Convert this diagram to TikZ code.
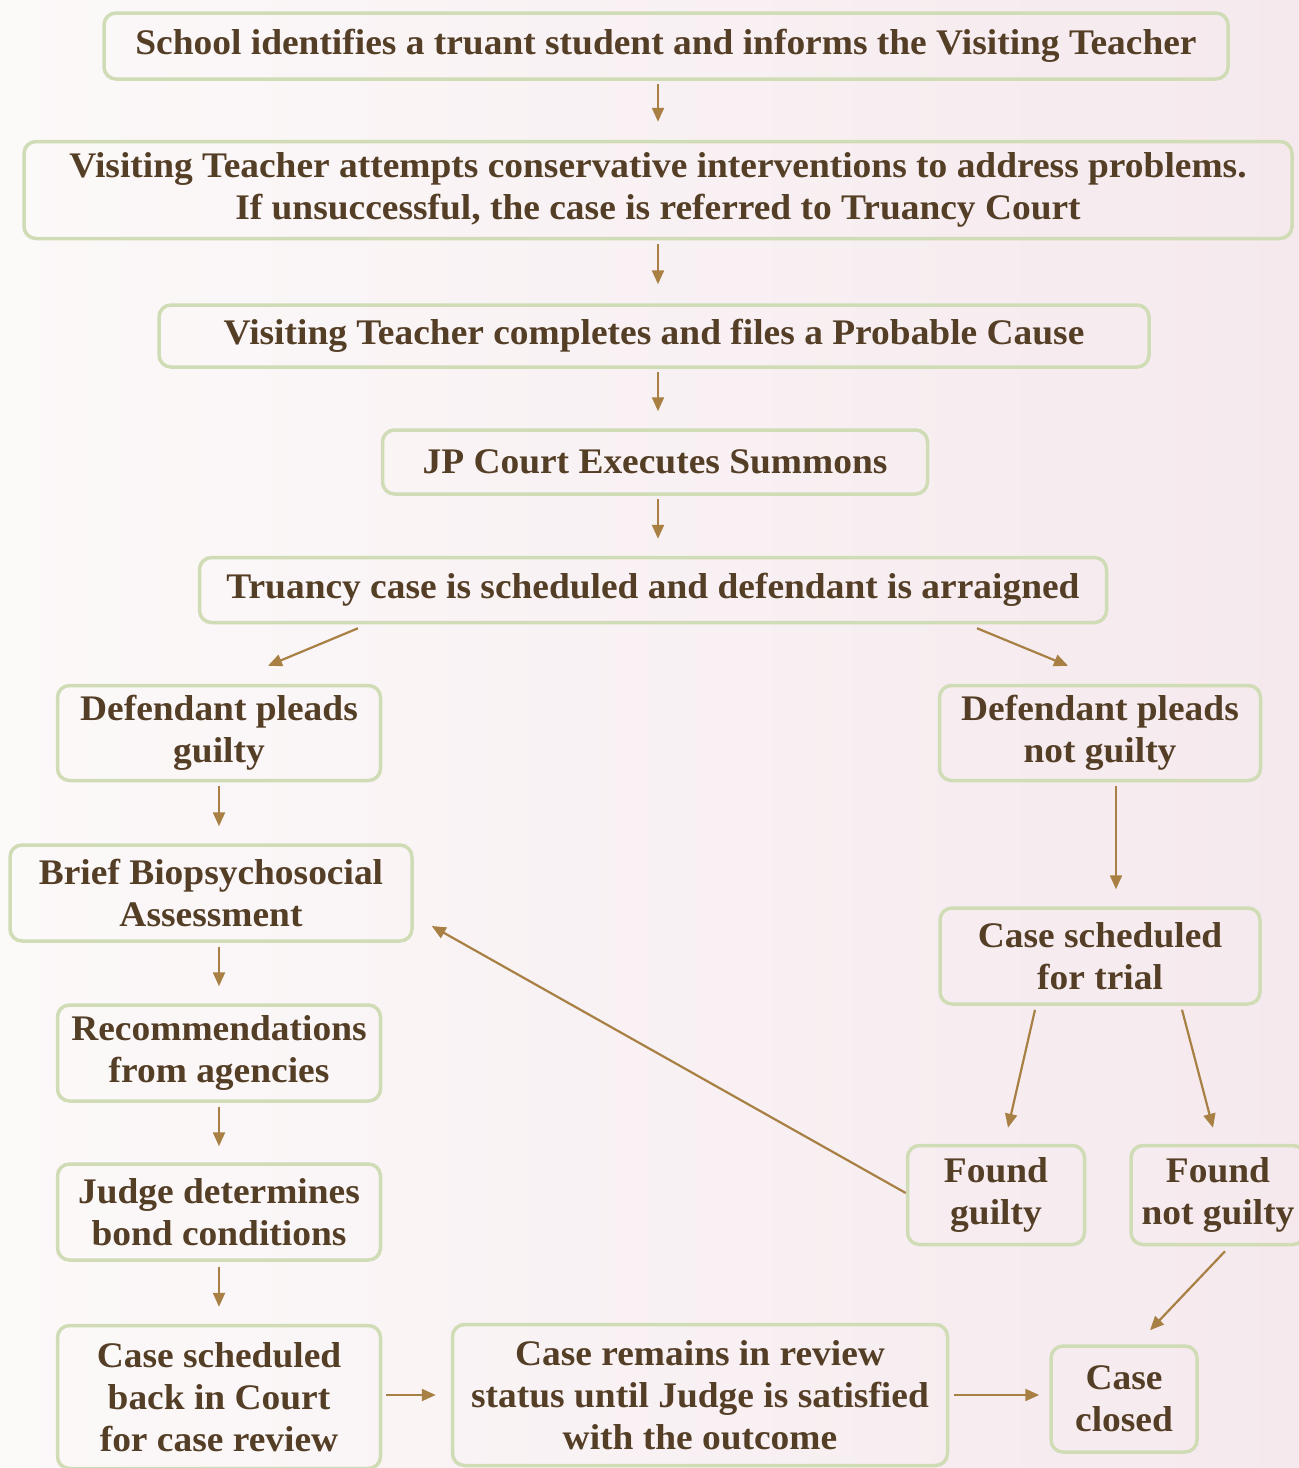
\documentclass[tikz,border=0pt]{standalone}
\usepackage{fontspec}
\setmainfont{Liberation Serif}[FakeStretch=1.04]
\usetikzlibrary{calc,arrows.meta}
\definecolor{bgl}{RGB}{252,249,249}
\definecolor{bgr}{RGB}{245,233,237}
\definecolor{boxline}{RGB}{208,220,182}
\definecolor{txt}{RGB}{84,62,38}
\definecolor{arrc}{RGB}{168,128,68}
\tikzset{
  stepbox/.style={draw=boxline, line width=3.5pt, rounded corners=12pt, inner sep=0pt,
    align=center, text=txt, font=\fontsize{36}{42}\selectfont\bfseries},
  flow/.style={draw=arrc, line width=2.2pt, -{Triangle[length=14pt,width=12pt]}},
}
\begin{document}
\begin{tikzpicture}[x=1pt,y=-1pt]
\useasboundingbox (0,0) rectangle (1299,1468);
\shade[left color=bgl, right color=bgr] (0,0) rectangle (1299,1468);

\node[stepbox, minimum width=1124pt, minimum height=66pt] (n1) at (666,46)
  {School identifies a truant student and informs the Visiting Teacher};
\node[stepbox, minimum width=1268pt, minimum height=97pt] (n2) at (658,190)
  {Visiting Teacher attempts conservative interventions to address problems.\\If unsuccessful, the case is referred to Truancy Court};
\node[stepbox, minimum width=990pt, minimum height=62pt] (n3) at (654,336)
  {Visiting Teacher completes and files a Probable Cause};
\node[stepbox, minimum width=545pt, minimum height=64pt] (n4) at (655,462)
  {JP Court Executes Summons};
\node[stepbox, minimum width=907pt, minimum height=65pt] (n5) at (653,590)
  {Truancy case is scheduled and defendant is arraigned};
\node[stepbox, minimum width=323pt, minimum height=95pt] (n6) at (219,733)
  {Defendant pleads\\guilty};
\node[stepbox, minimum width=321pt, minimum height=95pt] (n7) at (1100,733)
  {Defendant pleads\\not guilty};
\node[stepbox, minimum width=402pt, minimum height=96pt] (n8) at (211,893)
  {Brief Biopsychosocial\\Assessment};
\node[stepbox, minimum width=323pt, minimum height=96pt] (n9) at (219,1053)
  {Recommendations\\from agencies};
\node[stepbox, minimum width=323pt, minimum height=96pt] (n10) at (219,1212)
  {Judge determines\\bond conditions};
\node[stepbox, minimum width=323pt, minimum height=143pt] (n11) at (219,1397)
  {Case scheduled\\back in Court\\for case review};
\node[stepbox, minimum width=495pt, minimum height=141pt] (n12) at (700,1395)
  {Case remains in review\\status until Judge is satisfied\\with the outcome};
\node[stepbox, minimum width=146pt, minimum height=106pt] (n13) at (1124,1399)
  {Case\\closed};
\node[stepbox, minimum width=320pt, minimum height=96pt] (n14) at (1100,956)
  {Case scheduled\\for trial};
\node[stepbox, minimum width=177pt, minimum height=99pt] (n15) at (996,1195)
  {Found\\guilty};
\node[stepbox, minimum width=174pt, minimum height=99pt] (n16) at (1218,1195)
  {Found\\not guilty};

% central column
\draw[flow, shorten <=3pt, shorten >=18pt] (n1.south -| n2.south) -- (n2.north);
\draw[flow, shorten <=4pt, shorten >=19pt] (n2.south) -- (n3.north -| n2.south);
\draw[flow, shorten <=3pt, shorten >=17pt] (n3.south -| n2.south) -- (n4.north -| n2.south);
\draw[flow, shorten <=3pt, shorten >=17pt] (n4.south -| n2.south) -- (n5.north -| n2.south);
% split
\draw[flow] ([xshift=-295pt,yshift=-4pt]n5.south) -- ([xshift=49pt,yshift=18pt]n6.north);
\draw[flow] ([xshift=324pt,yshift=-4pt]n5.south) -- ([xshift=-32pt,yshift=18pt]n7.north);
% left column
\draw[flow, shorten <=4pt, shorten >=17pt] (n6.south) -- (n6.south |- n8.north);
\draw[flow, shorten <=4pt, shorten >=17pt] (n9.north |- n8.south) -- (n9.north);
\draw[flow, shorten <=4pt, shorten >=16pt] (n9.south) -- (n10.north);
\draw[flow, shorten <=5pt, shorten >=17pt] (n10.south) -- (n11.north);
% right column
\draw[flow] ([xshift=16pt,yshift=-4pt]n7.south) -- ([xshift=16pt,yshift=17pt]n14.north);
\draw[flow] ([xshift=-65pt,yshift=-4pt]n14.south) -- ([xshift=12pt,yshift=16pt]n15.north);
\draw[flow] ([xshift=82pt,yshift=-4pt]n14.south) -- ([xshift=-5pt,yshift=16pt]n16.north);
\draw[flow] ([yshift=2pt]n15.west) -- ([xshift=18pt,yshift=-33pt]n8.east);
\draw[flow] ([xshift=7pt,yshift=-5pt]n16.south) -- ([xshift=26pt,yshift=14pt]n13.north);
% bottom row
\draw[flow, shorten <=4pt, shorten >=15pt] (n11.east |- n12.west) -- (n12.west);
\draw[flow, shorten <=5pt, shorten >=10pt] (n12.east) -- (n13.west |- n12.east);
\end{tikzpicture}
\end{document}
